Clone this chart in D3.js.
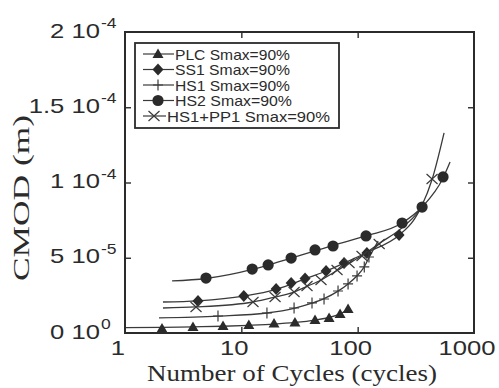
<!DOCTYPE html>
<html>
<head>
<meta charset="utf-8">
<script src="https://cdn.jsdelivr.net/npm/d3@7"></script>
<style>
  body { margin: 0; background: #ffffff; }
  svg { display: block; }
</style>
</head>
<body>
<svg id="chart" width="499" height="388"></svg>
<script>
// CMOD growth against number of load cycles for five specimens (Smax = 90%)

const seriesNames = ["PLC Smax=90%", "SS1 Smax=90%", "HS1 Smax=90%", "HS2 Smax=90%", "HS1+PP1 Smax=90%"];
const seriesMarkers = ["triangle", "diamond", "plus", "circle", "cross"];

// measured points: cycles, CMOD (m)
const plcCycles = [2.08, 3.84, 6.96, 11.6, 19.1, 28.9, 43.0, 56.8, 70.6, 82.7];
const plcCmod = [0.30e-5, 0.40e-5, 0.47e-5, 0.53e-5, 0.63e-5, 0.70e-5, 0.86e-5, 1.00e-5, 1.26e-5, 1.59e-5];

const ss1Cycles = [4.24, 10.5, 19.9, 26.8, 35.3, 53.5, 76.4, 120, 227];
const ss1Cmod = [2.13e-5, 2.46e-5, 2.92e-5, 3.32e-5, 3.62e-5, 4.12e-5, 4.65e-5, 5.32e-5, 6.51e-5];

const hs1Cycles = [6.30, 16.6, 28.4, 40.5, 51.4, 67.8, 82.7, 98.8, 114, 125];
const hs1Cmod = [1.13e-5, 1.33e-5, 1.66e-5, 2.00e-5, 2.26e-5, 2.79e-5, 3.26e-5, 3.79e-5, 4.39e-5, 5.05e-5];

const hs2Cycles = [4.97, 12.4, 17.0, 26.8, 43.0, 61.4, 118, 241, 358, 542];
const hs2Cmod = [3.65e-5, 4.25e-5, 4.52e-5, 4.98e-5, 5.52e-5, 5.78e-5, 6.45e-5, 7.31e-5, 8.37e-5, 10.37e-5];

const hs1pp1Cycles = [4.08, 12.6, 19.5, 28.4, 36.7, 48.4, 66.5, 84.3, 109, 153, 436];
const hs1pp1Cmod = [1.73e-5, 2.06e-5, 2.39e-5, 2.72e-5, 3.12e-5, 3.52e-5, 4.19e-5, 4.65e-5, 5.12e-5, 5.91e-5, 10.23e-5];

// fitted trend curves: cycles, CMOD (m)
const plcFitCycles = [1, 2.08, 3.84, 6.96, 11.6, 19.1, 28.9, 43, 56.8, 70.6, 82.7];
const plcFitCmod = [0.36e-5, 0.38e-5, 0.41e-5, 0.45e-5, 0.51e-5, 0.59e-5, 0.70e-5, 0.86e-5, 1.03e-5, 1.27e-5, 1.56e-5];

const ss1FitCycles = [2.12, 4.24, 10.5, 19.9, 26.8, 35.3, 53.5, 76.4, 120, 227, 300, 358];
const ss1FitCmod = [2.06e-5, 2.14e-5, 2.45e-5, 2.90e-5, 3.25e-5, 3.60e-5, 4.12e-5, 4.65e-5, 5.35e-5, 6.50e-5, 7.45e-5, 8.45e-5];

const hs1FitCycles = [1.96, 6.3, 16.6, 28.4, 40.5, 51.4, 67.8, 82.7, 98.8, 114, 125, 150];
const hs1FitCmod = [1.00e-5, 1.12e-5, 1.33e-5, 1.64e-5, 1.98e-5, 2.28e-5, 2.78e-5, 3.26e-5, 3.80e-5, 4.40e-5, 5.00e-5, 6.10e-5];

const hs2FitCycles = [2.54, 4.97, 12.4, 17, 26.8, 43, 61.4, 118, 241, 358, 542, 623];
const hs2FitCmod = [3.46e-5, 3.62e-5, 4.22e-5, 4.52e-5, 4.98e-5, 5.45e-5, 5.82e-5, 6.45e-5, 7.31e-5, 8.37e-5, 10.3e-5, 11.36e-5];

const hs1pp1FitCycles = [2.12, 4.08, 12.6, 19.5, 28.4, 36.7, 48.4, 66.5, 84.3, 109, 153, 250, 358, 436, 553];
const hs1pp1FitCmod = [1.66e-5, 1.73e-5, 2.06e-5, 2.39e-5, 2.72e-5, 3.10e-5, 3.52e-5, 4.15e-5, 4.62e-5, 5.15e-5, 5.95e-5, 7.10e-5, 8.50e-5, 10.2e-5, 13.3e-5];

// axis ticks
const xTickValues = [1, 10, 100, 1000];
const xTickLabels = ["1", "10", "100", "1000"];
const yTickValues = [0, 5e-5, 1e-4, 1.5e-4, 2e-4];
const yTickMantissa = ["0", "5", "1", "1.5", "2"];
const yTickExponent = ["0", "-5", "-4", "-4", "-4"];

const series = [
  { cycles: plcCycles, cmod: plcCmod, fitCycles: plcFitCycles, fitCmod: plcFitCmod },
  { cycles: ss1Cycles, cmod: ss1Cmod, fitCycles: ss1FitCycles, fitCmod: ss1FitCmod },
  { cycles: hs1Cycles, cmod: hs1Cmod, fitCycles: hs1FitCycles, fitCmod: hs1FitCmod },
  { cycles: hs2Cycles, cmod: hs2Cmod, fitCycles: hs2FitCycles, fitCmod: hs2FitCmod },
  { cycles: hs1pp1Cycles, cmod: hs1pp1Cmod, fitCycles: hs1pp1FitCycles, fitCmod: hs1pp1FitCmod }
].map((s, i) => ({ ...s, name: seriesNames[i], marker: seriesMarkers[i] }));

// layout
const plot = { left: 125, right: 474, top: 32, bottom: 333 };
const ink = "#2b2b2b";
const lineInk = "#3a3a3a";
const sansFont = "'Liberation Sans', Arial, Helvetica, sans-serif";
const serifFont = "'Liberation Serif', 'Times New Roman', serif";

const svg = d3.select("#chart");

const x = d3.scaleLog().domain([1, 1000]).range([plot.left, plot.right]);
const y = d3.scaleLinear().domain([0, 2e-4]).range([plot.bottom, plot.top]);

// stretch a text element horizontally by a factor
function widen(sel, factor) {
  sel.each(function () {
    const w = this.getComputedTextLength();
    d3.select(this).attr("textLength", w * factor).attr("lengthAdjust", "spacingAndGlyphs");
  });
}

// inward ticks on all four sides
const tick = 6;
svg.append("g").attr("transform", `translate(0,${plot.bottom})`)
  .call(d3.axisBottom(x).tickValues(xTickValues.slice(1, 3)).tickSizeInner(-tick).tickSizeOuter(0).tickFormat(""))
  .call(g => g.select(".domain").remove());
svg.append("g").attr("transform", `translate(0,${plot.top})`)
  .call(d3.axisTop(x).tickValues(xTickValues.slice(1, 3)).tickSizeInner(-tick).tickSizeOuter(0).tickFormat(""))
  .call(g => g.select(".domain").remove());
svg.append("g").attr("transform", `translate(${plot.left},0)`)
  .call(d3.axisLeft(y).tickValues(yTickValues.slice(1, 4)).tickSizeInner(-tick).tickSizeOuter(0).tickFormat(""))
  .call(g => g.select(".domain").remove());
svg.append("g").attr("transform", `translate(${plot.right},0)`)
  .call(d3.axisRight(y).tickValues(yTickValues.slice(1, 4)).tickSizeInner(-tick).tickSizeOuter(0).tickFormat(""))
  .call(g => g.select(".domain").remove());
svg.selectAll(".tick line").attr("stroke", ink).attr("stroke-width", 1.4);

// fitted curves
const curve = d3.line()
  .x(d => x(d[0]))
  .y(d => y(d[1]))
  .curve(d3.curveMonotoneX);

const curves = svg.append("g").attr("fill", "none").attr("stroke", lineInk).attr("stroke-width", 1.3);
series.forEach(s => {
  curves.append("path").attr("d", curve(d3.zip(s.fitCycles, s.fitCmod)));
});

// marker shapes
function drawMarker(g, type, cx, cy) {
  if (type === "triangle") {
    g.append("path").attr("d", `M${cx},${cy - 5.5}L${cx + 5.5},${cy + 4}L${cx - 5.5},${cy + 4}Z`).attr("fill", ink);
  } else if (type === "diamond") {
    g.append("path").attr("d", `M${cx},${cy - 6}L${cx + 5.5},${cy}L${cx},${cy + 6}L${cx - 5.5},${cy}Z`).attr("fill", ink);
  } else if (type === "circle") {
    g.append("circle").attr("cx", cx).attr("cy", cy).attr("r", 5.6).attr("fill", ink);
  } else if (type === "plus") {
    g.append("path").attr("d", `M${cx - 5},${cy}H${cx + 5}M${cx},${cy - 5.5}V${cy + 5.5}`)
      .attr("stroke", lineInk).attr("stroke-width", 1.2).attr("fill", "none");
  } else if (type === "cross") {
    g.append("path").attr("d", `M${cx - 5.5},${cy - 5}L${cx + 5.5},${cy + 5}M${cx - 5.5},${cy + 5}L${cx + 5.5},${cy - 5}`)
      .attr("stroke", lineInk).attr("stroke-width", 1.2).attr("fill", "none");
  }
}

const markers = svg.append("g");
series.forEach(s => {
  s.cycles.forEach((c, i) => drawMarker(markers, s.marker, x(c), y(s.cmod[i])));
});

// plot frame
svg.append("rect")
  .attr("x", plot.left).attr("y", plot.top)
  .attr("width", plot.right - plot.left).attr("height", plot.bottom - plot.top)
  .attr("fill", "none").attr("stroke", ink).attr("stroke-width", 2);

// y tick labels: mantissa and power of ten
const yLab = svg.append("g").attr("fill", ink).attr("font-family", sansFont);
yTickValues.forEach((v, i) => {
  const ty = y(v);
  yLab.append("text")
    .attr("x", 100).attr("y", ty + 5.5)
    .attr("text-anchor", "end").attr("font-size", 21)
    .text(`${yTickMantissa[i]} 10`)
    .call(widen, 1.22);
  yLab.append("text")
    .attr("x", 101).attr("y", ty - 4)
    .attr("font-size", 14)
    .text(yTickExponent[i])
    .call(widen, 1.25);
});

// x tick labels
const xLab = svg.append("g").attr("fill", ink).attr("font-family", sansFont);
xTickValues.forEach((v, i) => {
  xLab.append("text")
    .attr("x", x(v) - 7).attr("y", 355)
    .attr("text-anchor", "middle").attr("font-size", 21)
    .text(xTickLabels[i])
    .call(widen, 1.22);
});

// axis titles
svg.append("text")
  .attr("x", 292).attr("y", 381)
  .attr("text-anchor", "middle")
  .attr("font-family", serifFont).attr("font-size", 23).attr("fill", ink)
  .attr("textLength", 290).attr("lengthAdjust", "spacingAndGlyphs")
  .text("Number of Cycles (cycles)");

svg.append("text")
  .attr("transform", "translate(29,198) rotate(-90)")
  .attr("text-anchor", "middle")
  .attr("font-family", serifFont).attr("font-size", 24).attr("fill", ink)
  .attr("textLength", 166).attr("lengthAdjust", "spacingAndGlyphs")
  .text("CMOD (m)");

// legend
const legend = svg.append("g");
legend.append("rect")
  .attr("x", 135).attr("y", 43).attr("width", 204).attr("height", 85)
  .attr("fill", "#ffffff").attr("stroke", ink).attr("stroke-width", 1.8);

const rowY = d3.scalePoint().domain(seriesNames).range([54, 116]);
const legendText = [115, 115, 115, 117, 163];
series.forEach((s, i) => {
  const ry = rowY(s.name);
  const last = i === series.length - 1;
  const lineEnd = last ? 166 : 174;
  const mx = last ? 154 : 158;
  legend.append("line")
    .attr("x1", 143).attr("x2", lineEnd).attr("y1", ry).attr("y2", ry)
    .attr("stroke", lineInk).attr("stroke-width", 1.2);
  drawMarker(legend, s.marker, mx, ry);
  legend.append("text")
    .attr("x", lineEnd + 1).attr("y", ry + 5.5)
    .attr("font-family", sansFont).attr("font-size", 15).attr("fill", ink)
    .attr("textLength", legendText[i]).attr("lengthAdjust", "spacingAndGlyphs")
    .text(s.name);
});
</script>
</body>
</html>
